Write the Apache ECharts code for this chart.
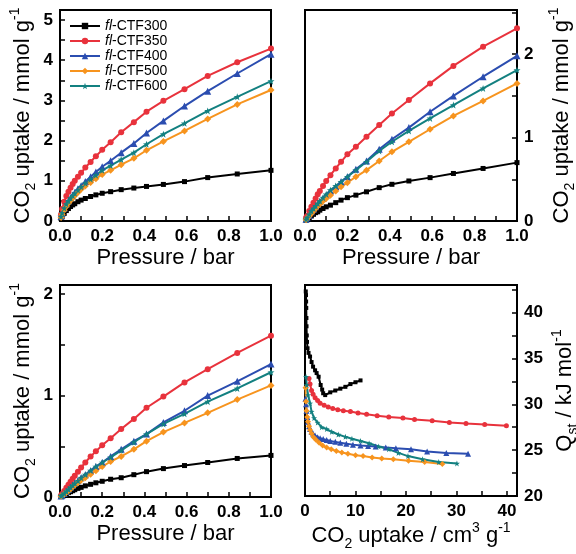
<!DOCTYPE html>
<html><head><meta charset="utf-8">
<script src="https://cdn.jsdelivr.net/npm/echarts@6/dist/echarts.min.js"></script>
<style>html,body{margin:0;padding:0;background:#fff}#c{width:576px;height:554px}</style>
</head><body><div id="c"></div>
<script>
// ---------- data ----------
const seriesNames = ['fl-CTF300','fl-CTF350','fl-CTF400','fl-CTF500','fl-CTF600'];
const pressure = [0.005,0.01,0.02,0.03,0.04,0.05,0.06,0.07,0.085,0.1,0.12,0.145,0.17,0.2,0.24,0.29,0.35,0.41,0.49,0.59,0.70,0.84,1.0];

// panel 1 (top-left) uptake, mmol/g
const a300 = [0.06,0.11,0.19,0.26,0.31,0.36,0.40,0.43,0.48,0.52,0.56,0.61,0.65,0.69,0.73,0.78,0.82,0.86,0.91,0.98,1.08,1.17,1.26];
const a350 = [0.16,0.30,0.48,0.62,0.73,0.83,0.92,1.0,1.1,1.2,1.33,1.47,1.61,1.77,1.96,2.21,2.46,2.72,2.99,3.28,3.61,3.95,4.29];
const a400 = [0.11,0.20,0.32,0.42,0.50,0.58,0.65,0.71,0.80,0.88,0.98,1.10,1.22,1.35,1.50,1.70,1.93,2.19,2.49,2.86,3.23,3.67,4.15];
const a500 = [0.09,0.16,0.27,0.36,0.44,0.51,0.57,0.63,0.71,0.79,0.87,0.96,1.05,1.16,1.26,1.40,1.56,1.76,1.98,2.24,2.54,2.90,3.26];
const a600 = [0.11,0.20,0.32,0.42,0.50,0.57,0.63,0.69,0.77,0.85,0.94,1.04,1.14,1.26,1.38,1.53,1.70,1.91,2.16,2.43,2.74,3.09,3.48];

// panel 2 (top-right)
const b300 = [0.01,0.02,0.04,0.06,0.08,0.10,0.11,0.13,0.15,0.17,0.19,0.22,0.25,0.28,0.31,0.35,0.40,0.44,0.48,0.52,0.57,0.63,0.70];
const b350 = [0.04,0.06,0.12,0.17,0.22,0.27,0.32,0.36,0.42,0.48,0.55,0.63,0.71,0.80,0.89,1.01,1.15,1.29,1.45,1.65,1.86,2.09,2.31];
const b400 = [0.02,0.04,0.07,0.11,0.14,0.17,0.20,0.23,0.27,0.31,0.36,0.41,0.47,0.53,0.62,0.72,0.86,0.98,1.12,1.31,1.50,1.73,1.98];
const b500 = [0.015,0.03,0.06,0.09,0.12,0.15,0.18,0.20,0.24,0.27,0.31,0.36,0.41,0.46,0.53,0.61,0.72,0.83,0.95,1.10,1.26,1.44,1.65];
const b600 = [0.02,0.04,0.08,0.12,0.15,0.18,0.21,0.24,0.28,0.32,0.37,0.42,0.47,0.53,0.61,0.71,0.84,0.95,1.08,1.23,1.39,1.59,1.81];

// panel 3 (bottom-left)
const c300 = [0.006,0.012,0.022,0.033,0.043,0.052,0.062,0.072,0.085,0.095,0.11,0.125,0.14,0.155,0.175,0.19,0.22,0.25,0.28,0.31,0.34,0.38,0.41];
const c350 = [0.015,0.03,0.06,0.09,0.12,0.15,0.18,0.21,0.25,0.29,0.34,0.40,0.45,0.51,0.58,0.67,0.77,0.88,0.99,1.13,1.26,1.42,1.59];
const c400 = [0.01,0.018,0.035,0.055,0.075,0.095,0.115,0.135,0.16,0.19,0.22,0.26,0.30,0.34,0.40,0.47,0.55,0.62,0.735,0.85,1.0,1.14,1.31];
const c500 = [0.008,0.015,0.03,0.045,0.06,0.08,0.10,0.115,0.14,0.165,0.19,0.225,0.26,0.30,0.35,0.40,0.47,0.55,0.64,0.73,0.83,0.96,1.10];
const c600 = [0.01,0.018,0.035,0.055,0.075,0.095,0.115,0.135,0.16,0.19,0.22,0.26,0.30,0.34,0.39,0.46,0.54,0.62,0.72,0.82,0.94,1.07,1.23];

// panel 4 (bottom-right): Qst vs uptake (cm3/g)
const q300x = [0.15,0.2,0.22,0.25,0.28,0.3,0.35,0.4,0.5,0.7,1.0,1.3,1.6,2.0,2.3,2.7,3.1,3.4,3.6,4.0,5.0,6.0,7.0,8.0,9.0,10.0,11.0];
const q300y = [42.3,41.9,41.2,40.5,39.4,38.5,37.5,36.8,36.1,35.6,35.2,34.6,34.1,33.7,33.4,33.0,32.1,31.6,31.2,31.0,31.3,31.5,31.7,31.9,32.2,32.4,32.6];
const q350x = [0.8,1.0,1.3,1.6,2.0,2.5,3.0,3.8,4.6,5.5,6.5,7.6,9.0,10.5,12.2,14.3,16.6,19.4,21.7,25.2,28.6,31.9,35.6,39.9];
const q350y = [32.8,32.2,31.5,31.1,30.7,30.4,30.1,29.9,29.7,29.55,29.4,29.3,29.2,29.05,28.9,28.75,28.6,28.5,28.35,28.2,28.0,27.9,27.8,27.65];
const q400x = [0.1,0.2,0.3,0.45,0.6,0.8,1.0,1.3,1.6,2.0,2.5,3.0,3.6,4.3,5.0,6.0,7.0,8.2,9.5,11,12.5,14,16,18,21,24.2,28,32.3];
const q400y = [30.6,30.0,29.3,28.6,28.1,27.6,27.3,27.0,26.8,26.6,26.4,26.3,26.2,26.1,26.0,25.9,25.8,25.7,25.6,25.5,25.45,25.4,25.3,25.2,25.1,24.85,24.7,24.6];
const q500x = [0.1,0.2,0.3,0.45,0.6,0.8,1.0,1.3,1.7,2.2,2.8,3.5,4.3,5.2,6.2,7.3,8.5,10,11.5,13.3,15.2,17.5,20.5,23.7,27.2];
const q500y = [31.8,30.3,29.3,28.6,28.1,27.6,27.2,26.8,26.4,26.1,25.8,25.5,25.3,25.1,24.9,24.75,24.6,24.45,24.35,24.2,24.1,24.0,23.85,23.7,23.5];
const q600x = [0.2,0.35,0.6,1.0,1.3,1.8,2.5,3.3,4.3,5.3,6.6,8.0,9.3,11,12.7,14.6,16.6,18.5,20.4,23.3,26.5,30.1];
const q600y = [33.0,32.1,31.0,30.1,29.2,28.5,28.0,27.5,27.3,27.0,26.7,26.45,26.25,26.0,25.75,25.4,25.1,24.7,24.35,24.0,23.7,23.55];

// tick settings
const pressureTicks = {min:0, max:1, interval:0.1, labelStep:0.2};
const yTicksA = {min:0, max:5.25, interval:0.5, labelStep:1};
const yTicksB = {min:0, max:2.53, interval:0.5, labelStep:1};
const yTicksC = {min:0, max:2.09, interval:0.5, labelStep:1};
const xTicksD = {min:0, max:42, interval:5, labelStep:10};
const yTicksD = {min:20, max:43, interval:2.5, labelStep:5};

// ---------- styling ----------
const FONT = '"Liberation Sans", Arial, Helvetica, sans-serif';
const colors = ['#000000','#e8323c','#2b4db0','#f7941e','#138080'];
const STAR = 'path://M0,-10L2.35,-3.24L9.51,-3.09L3.8,1.24L5.88,8.09L0,4L-5.88,8.09L-3.8,1.24L-9.51,-3.09L-2.35,-3.24Z';
const symbols = ['rect','circle','triangle','diamond',STAR];
const symSize = [5,6,7,7,7];

const rich = {
  n:{fontSize:22, lineHeight:30, verticalAlign:'middle', fontFamily:FONT, color:'#000'},
  sub:{fontSize:14, lineHeight:14, verticalAlign:'bottom', fontFamily:FONT, color:'#000'},
  sup:{fontSize:14, lineHeight:14, verticalAlign:'top', fontFamily:FONT, color:'#000'}
};
const nameUptake = '{n|CO}{sub|2}{n| uptake / mmol g}{sup|-1}';
const nameQst = '{n|Q}{sub|st}{n| / kJ mol}{sup|-1}';
const nameUptakeCm = '{n|CO}{sub|2}{n| uptake / cm}{sup|3}{n| g}{sup|-1}';

function fmtFactory(t, dec){
  return v => {
    const r = v / t.labelStep;
    if (Math.abs(r - Math.round(r)) < 1e-6) return (Math.round(r) * t.labelStep).toFixed(dec);
    return '';
  };
}
function axis(gi, t, dec, pos, name, nameGap, useRich){
  return {
    gridIndex: gi, type:'value', position: pos,
    min:t.min, max:t.max, interval:t.interval,
    axisLine:{show:true, onZero:false, lineStyle:{color:'#000', width:2}},
    axisTick:{show:true, inside:true, length:5, lineStyle:{color:'#000', width:1.5}},
    splitLine:{show:false},
    axisLabel:{color:'#000', fontSize:17, fontWeight:'bold', fontFamily:FONT, margin:7, formatter: fmtFactory(t, dec)},
    name: name, nameLocation:'middle', nameGap: nameGap,
    nameRotate: (pos === 'left' || pos === 'right') ? 90 : 0,
    nameTextStyle: useRich ? {rich: rich, fontFamily:FONT, color:'#000'} : {fontSize:22, color:'#000', fontFamily:FONT}
  };
}

const xAxes = [
  axis(0, pressureTicks, 1, 'bottom', 'Pressure / bar', 26, false),
  axis(1, pressureTicks, 1, 'bottom', 'Pressure / bar', 26, false),
  axis(2, pressureTicks, 1, 'bottom', 'Pressure / bar', 26, false),
  axis(3, xTicksD, 0, 'bottom', nameUptakeCm, 21, true)
];
const yAxes = [
  axis(0, yTicksA, 0, 'left', nameUptake, 22, true),
  axis(1, yTicksB, 0, 'right', nameUptake, 30, true),
  axis(2, yTicksC, 0, 'left', nameUptake, 22, true),
  axis(3, yTicksD, 0, 'right', nameQst, 33, true)
];

const zip = (xs, ys) => xs.map((x, i) => [x, ys[i]]);
const panels = [
  [a300,a350,a400,a500,a600].map(ys => zip(pressure, ys)),
  [b300,b350,b400,b500,b600].map(ys => zip(pressure, ys)),
  [c300,c350,c400,c500,c600].map(ys => zip(pressure, ys)),
  [zip(q300x,q300y),zip(q350x,q350y),zip(q400x,q400y),zip(q500x,q500y),zip(q600x,q600y)]
];

const series = [];
panels.forEach((sets, p) => {
  sets.forEach((data, k) => {
    series.push({
      type:'line', name: seriesNames[k], xAxisIndex:p, yAxisIndex:p, data: data,
      symbol: symbols[k], symbolSize: p === 3 ? symSize[k] - 1 : symSize[k],
      showSymbol:true, smooth:false, animation:false,
      lineStyle:{color:colors[k], width:2}, itemStyle:{color:colors[k]}
    });
  });
});

const grids = [
  {left:60, top:10, width:211, height:211},
  {left:305, top:10, width:212, height:211},
  {left:60, top:285, width:211, height:212},
  {left:305, top:285, width:212, height:211}
].map(g => Object.assign({show:true, borderColor:'#000', borderWidth:2, backgroundColor:'transparent', containLabel:false, outerBoundsMode:'none'}, g));

const chart = echarts.init(document.getElementById('c'), null, {renderer:'canvas'});
chart.setOption({
  animation:false,
  backgroundColor:'#fff',
  grid: grids,
  xAxis: xAxes,
  yAxis: yAxes,
  legend:{
    data: seriesNames, orient:'vertical', left:64, top:14,
    itemWidth:30, itemHeight:8, itemGap:1,
    textStyle:{fontSize:14, color:'#000', fontFamily:FONT, rich:{i:{fontStyle:'italic', fontSize:14, fontFamily:FONT, color:'#000'}}},
    formatter: name => '{i|fl}' + name.slice(2)
  },
  series: series
});
</script></body></html>
